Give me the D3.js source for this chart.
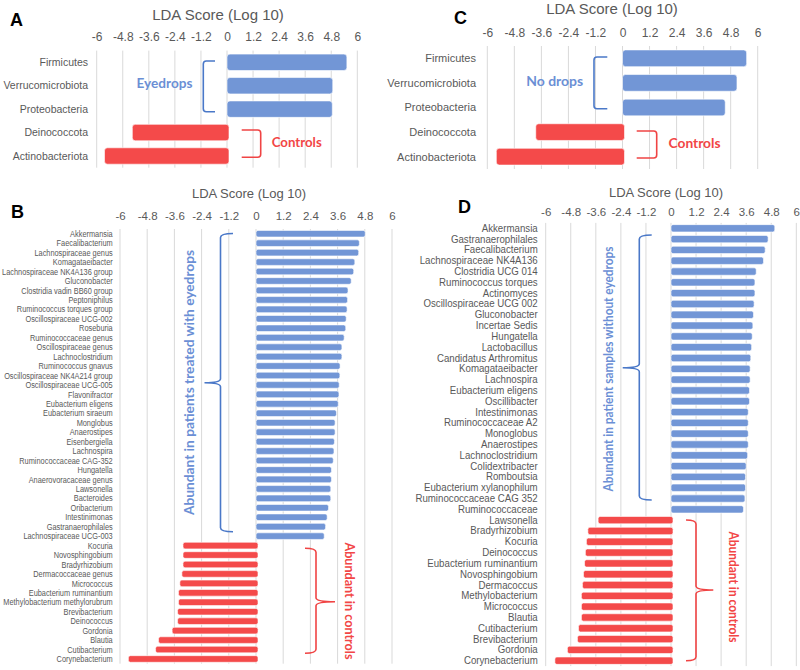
<!DOCTYPE html>
<html><head><meta charset="utf-8">
<script src="https://cdn.jsdelivr.net/npm/d3@7"></script>
<style>
body{margin:0;background:#fff;}
svg{display:block;font-family:"Liberation Sans",Arial,sans-serif;}
</style></head>
<body><svg id="c" width="800" height="670"></svg>
<script>
// ---------- DATA ----------
const tickValues = [-6,-4.8,-3.6,-2.4,-1.2,0,1.2,2.4,3.6,4.8,6];
const tickLabels = ["-6","-4.8","-3.6","-2.4","-1.2","0","1.2","2.4","3.6","4.8","6"];

const phylaA = ["Firmicutes","Verrucomicrobiota","Proteobacteria","Deinococcota","Actinobacteriota"];
const scoresA = [5.52, 4.87, 4.85, -4.36, -5.64];

const phylaC = ["Firmicutes","Verrucomicrobiota","Proteobacteria","Deinococcota","Actinobacteriota"];
const scoresC = [5.51, 5.08, 4.56, -3.85, -5.60];

const generaB = ["Akkermansia","Faecalibacterium","Lachnospiraceae genus","Komagataeibacter","Lachnospiraceae NK4A136 group","Gluconobacter","Clostridia vadin BB60 group","Peptoniphilus","Ruminococcus torques group","Oscillospiraceae UCG-002","Roseburia","Ruminococcaceae genus","Oscillospiraceae genus","Lachnoclostridium","Ruminococcus gnavus","Oscillospiraceae NK4A214 group","Oscillospiraceae UCG-005","Flavonifractor","Eubacterium eligens","Eubacterium siraeum","Monglobus","Anaerostipes","Eisenbergiella","Lachnospira","Ruminococcaceae CAG-352","Hungatella","Anaerovoracaceae genus","Lawsonella","Bacteroides","Oribacterium","Intestinimonas","Gastranaerophilales","Lachnospiraceae UCG-003","Kocuria","Novosphingobium","Bradyrhizobium","Dermacoccaceae genus","Micrococcus","Eubacterium ruminantium","Methylobacterium methylorubrum","Brevibacterium","Deinococcus","Gordonia","Blautia","Cutibacterium","Corynebacterium"];
const scoresB = [4.82,4.56,4.53,4.36,4.31,4.20,4.06,4.04,4.02,3.98,3.96,3.89,3.79,3.79,3.71,3.70,3.67,3.66,3.63,3.55,3.49,3.49,3.46,3.44,3.41,3.33,3.33,3.30,3.30,3.20,3.14,3.07,3.01,
 -3.22,-3.22,-3.22,-3.27,-3.36,-3.42,-3.42,-3.46,-3.46,-3.70,-4.30,-4.43,-5.63];

const generaD = ["Akkermansia","Gastranaerophilales","Faecalibacterium","Lachnospiraceae NK4A136","Clostridia UCG 014","Ruminococcus torques","Actinomyces","Oscillospiraceae UCG 002","Gluconobacter","Incertae Sedis","Hungatella","Lactobacillus","Candidatus Arthromitus","Komagataeibacter","Lachnospira","Eubacterium eligens","Oscillibacter","Intestinimonas","Ruminococcaceae A2","Monoglobus","Anaerostipes","Lachnoclostridium","Colidextribacter","Romboutsia","Eubacterium xylanophilum","Ruminococcaceae CAG 352","Ruminococcaceae","Lawsonella","Bradyrhizobium","Kocuria","Deinococcus","Eubacterium ruminantium","Novosphingobium","Dermacoccus","Methylobacterium","Micrococcus","Blautia","Cutibacterium","Brevibacterium","Gordonia","Corynebacterium"];
const scoresD = [4.97,4.65,4.51,4.43,4.08,4.02,4.02,3.98,3.95,3.92,3.89,3.86,3.82,3.79,3.79,3.76,3.76,3.70,3.70,3.70,3.70,3.67,3.60,3.57,3.57,3.54,3.47,
 -3.49,-3.98,-4.05,-4.10,-4.14,-4.19,-4.24,-4.29,-4.29,-4.29,-4.43,-4.48,-4.96,-5.56];

// ---------- STYLE ----------
const BLUE = "#7296d6", RED = "#f44a4a";
const BLUE_LINE = "#4a78c8", RED_LINE = "#f04444";
const BLUE_TXT = "#6b8fd5", RED_TXT = "#f24646";
const GRAY = "#595959", GRID = "#d9d9d9";
const BRACE_FONT = "Lato, 'Open Sans', sans-serif";

const svg = d3.select("#c");

function panel(o){
  const g = svg.append("g");
  const x = d3.scaleLinear().domain([-6,6]).range([o.x0, o.x1]);
  const y = d3.scaleBand().domain(o.cats).range([o.y0, o.y1]).paddingInner(o.pad).paddingOuter(o.pad/2);
  // grid
  g.selectAll("line.grid").data(tickValues).join("line")
    .attr("x1", d=>x(d)).attr("x2", d=>x(d))
    .attr("y1", o.y0).attr("y2", o.y1)
    .attr("stroke", GRID).attr("stroke-width", 1);
  // top axis tick labels via d3 axis
  const ax = d3.axisTop(x).tickValues(tickValues).tickFormat((d,i)=>tickLabels[i]).tickSize(0).tickPadding(0);
  const axg = g.append("g").attr("transform", `translate(0,${o.tickY})`).call(ax);
  axg.select(".domain").remove();
  axg.selectAll("text").attr("fill", GRAY).attr("font-size", o.tickFs)
     .attr("font-family","'Liberation Sans',Arial,sans-serif").attr("dy","0.35em");
  // title
  g.append("text").attr("x", o.titleX).attr("y", o.titleY).attr("text-anchor","middle")
    .attr("dy","0.35em").attr("fill", GRAY).attr("font-size", o.titleFs).text("LDA Score (Log 10)");
  // bars
  g.selectAll("rect.bar").data(o.cats.map((c,i)=>({c, v:o.vals[i]}))).join("rect")
    .attr("x", d=> d.v>=0 ? x(0) : x(d.v))
    .attr("width", d=> Math.abs(x(d.v)-x(0)) + (d.v<0 ? 2 : 0))
    .attr("y", d=>y(d.c)).attr("height", y.bandwidth())
    .attr("rx", o.rx).attr("fill", d=> d.v>=0 ? BLUE : RED)
    .attr("stroke","#fff").attr("stroke-width",0.6);
  // labels
  g.selectAll("text.lab").data(o.cats).join("text")
    .attr("transform", d=>`translate(${o.labX},${y(d)+y.bandwidth()/2}) scale(${o.labScale},1)`)
    .attr("dy","0.35em")
    .attr("text-anchor","end").attr("fill", GRAY).attr("font-size", o.labFs)
    .text(d=>d);
  // panel letter
  g.append("text").attr("x", o.letterX).attr("y", o.letterY).attr("font-size", 18)
    .attr("font-weight","bold").attr("fill","#000").text(o.letter);
  return g;
}

function braceLeft(xv, y0, y1, xa, xt, ym, r){ // "{"
  return `M${xa},${y0} Q${xv},${y0} ${xv},${y0+r} L${xv},${ym-r} Q${xv},${ym} ${xt},${ym} Q${xv},${ym} ${xv},${ym+r} L${xv},${y1-r} Q${xv},${y1} ${xa},${y1}`;
}
function bracketLeft(xv, y0, y1, xa, r){ // "["
  return `M${xa},${y0} L${xv+r},${y0} Q${xv},${y0} ${xv},${y0+r} L${xv},${y1-r} Q${xv},${y1} ${xv+r},${y1} L${xa},${y1}`;
}
function bracketRight(xv, y0, y1, xa, r){ // "]"
  return `M${xa},${y0} L${xv-r},${y0} Q${xv},${y0} ${xv},${y0+r} L${xv},${y1-r} Q${xv},${y1} ${xv-r},${y1} L${xa},${y1}`;
}
function braceRight(xv, y0, y1, xa, xt, ym, r){ // "}"
  return `M${xa},${y0} Q${xv},${y0} ${xv},${y0+r} L${xv},${ym-r} Q${xv},${ym} ${xt},${ym} Q${xv},${ym} ${xv},${ym+r} L${xv},${y1-r} Q${xv},${y1} ${xa},${y1}`;
}
function path(d, col){
  svg.append("path").attr("d", d).attr("fill","none").attr("stroke", col).attr("stroke-width",1.6);
}
function label(txt, x, y, col, fs, len, rot){
  const t = svg.append("text").attr("font-family", BRACE_FONT).attr("font-weight","bold")
    .attr("font-size", fs).attr("fill", col).attr("text-anchor","middle").attr("dy","0.35em")
    .attr("transform", `translate(${x},${y}) rotate(${rot||0})`).text(txt);
  if(len) t.attr("textLength", len).attr("lengthAdjust","spacingAndGlyphs");
}

// Panel A
panel({cats:phylaA, vals:scoresA, x0:96.7, x1:357.3, y0:50.6, y1:167.7, pad:0.3, rx:3,
  tickY:36.7, tickFs:12, titleX:218, titleY:15, titleFs:15, labX:88, labFs:10.5, labScale:1,
  letter:"A", letterX:10, letterY:26});
path(bracketLeft(203.3, 61, 111.7, 215, 3), BLUE_LINE);
label("Eyedrops", 164.5, 83, BLUE_TXT, 14, 56);
path(bracketRight(260.7, 130, 157.3, 241.7, 3), RED_LINE);
label("Controls", 296.7, 141.7, RED_TXT, 14, 50);

// Panel C
panel({cats:phylaC, vals:scoresC, x0:487.3, x1:757.7, y0:46, y1:169, pad:0.32, rx:3,
  tickY:32.3, tickFs:12, titleX:612, titleY:9, titleFs:15, labX:476, labFs:11, labScale:1,
  letter:"C", letterX:454, letterY:24});
path(bracketLeft(594, 57, 108.7, 607.3, 3), BLUE_LINE);
label("No drops", 554.7, 81, BLUE_TXT, 14, 57);
path(bracketRight(656.7, 131, 158, 636.7, 3), RED_LINE);
label("Controls", 694.5, 143, RED_TXT, 14, 52);

// Panel B
panel({cats:generaB, vals:scoresB, x0:120, x1:392, y0:229, y1:663.7, pad:0.3, rx:2,
  tickY:216, tickFs:11.5, titleX:249, titleY:193, titleFs:13, labX:112.7, labFs:9, labScale:0.82,
  letter:"B", letterX:11, letterY:218});
path(braceLeft(220.5, 233.5, 531.7, 233, 204.5, 382.7, 4), BLUE_LINE);
label("Abundant in patients treated with eyedrops", 189, 382.5, BLUE_TXT, 13.5, 265, -90);
path(braceRight(316, 548.3, 653.3, 305, 335, 601.7, 4), RED_LINE);
label("Abundant in controls", 350, 601, RED_TXT, 13.5, 117, 90);

// Panel D
panel({cats:generaD, vals:scoresD, x0:545.7, x1:796.3, y0:222.9, y1:666.1, pad:0.32, rx:2,
  tickY:211.7, tickFs:11.5, titleX:666, titleY:192, titleFs:13, labX:537.7, labFs:10, labScale:0.97,
  letter:"D", letterX:458, letterY:213});
path(braceLeft(639.3, 235, 500, 651.7, 622.7, 367.7, 4), BLUE_LINE);
label("Abundant in patient samples without eyedrops", 608, 369, BLUE_TXT, 13, 245, -90);
path(braceRight(696, 520, 660.7, 686, 713.3, 590, 4), RED_LINE);
label("Abundant in controls", 733.3, 587, RED_TXT, 13, 111, 90);
</script></body></html>
